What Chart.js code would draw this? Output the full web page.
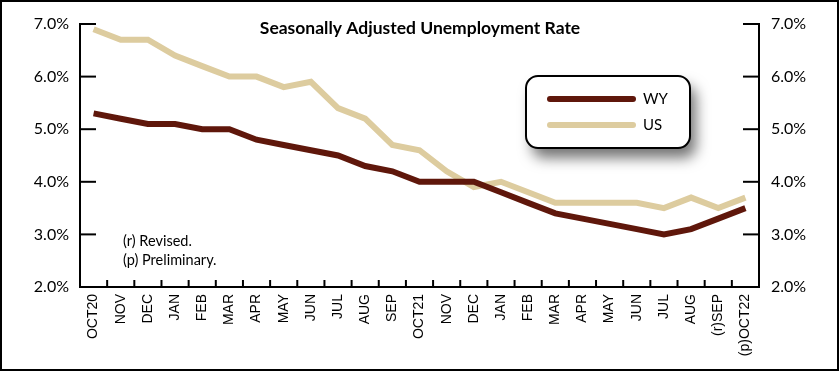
<!DOCTYPE html>
<html>
<head>
<meta charset="utf-8">
<script src="https://cdn.jsdelivr.net/npm/chart.js@4/dist/chart.umd.min.js"></script>
<style>
  html, body { margin: 0; padding: 0; background: #fff; }
  #wrap { width: 840px; height: 372px; position: relative; }
</style>
</head>
<body>
<div id="wrap"><canvas id="chart" width="840" height="372"></canvas></div>
<script>
const months = ['OCT20', 'NOV', 'DEC', 'JAN', 'FEB', 'MAR', 'APR', 'MAY', 'JUN', 'JUL', 'AUG', 'SEP',
    'OCT21', 'NOV', 'DEC', 'JAN', 'FEB', 'MAR', 'APR', 'MAY', 'JUN', 'JUL', 'AUG', '(r)SEP', '(p)OCT22'];
const wyRate = [5.3, 5.2, 5.1, 5.1, 5.0, 5.0, 4.8, 4.7, 4.6, 4.5, 4.3, 4.2,
    4.0, 4.0, 4.0, 3.8, 3.6, 3.4, 3.3, 3.2, 3.1, 3.0, 3.1, 3.3, 3.5];
const usRate = [6.9, 6.7, 6.7, 6.4, 6.2, 6.0, 6.0, 5.8, 5.9, 5.4, 5.2, 4.7,
    4.6, 4.2, 3.9, 4.0, 3.8, 3.6, 3.6, 3.6, 3.6, 3.5, 3.7, 3.5, 3.7];
const seriesNames = ['WY', 'US'];
const footnotes = ['(r) Revised.', '(p) Preliminary.'];
const title = 'Seasonally Adjusted Unemployment Rate';

const colors = {
    wy: '#5f170b',
    us: '#ddcc9f',
    axis: '#000'
};
const fontFamily = 'Lato, "Open Sans", sans-serif';
const xFont = '"Liberation Sans", Arial, sans-serif';

// ticks pointing inward, title, box legend with shadow, notes and frame
const decorations = {
    id: 'decorations',
    afterDraw(chart) {
        const ctx = chart.ctx;
        const area = chart.chartArea;
        const x = chart.scales.x;
        const y = chart.scales.y;
        const y2 = chart.scales.y2;

        ctx.save();
        ctx.strokeStyle = colors.axis;
        ctx.lineWidth = 2;
        y.ticks.forEach((t, i) => {
            const py = y.getPixelForTick(i);
            ctx.beginPath();
            ctx.moveTo(area.left, py);
            ctx.lineTo(area.left + 16, py);
            ctx.stroke();
        });
        y2.ticks.forEach((t, i) => {
            const py = y2.getPixelForTick(i);
            ctx.beginPath();
            ctx.moveTo(area.right, py);
            ctx.lineTo(area.right - 16, py);
            ctx.stroke();
        });
        const step = x.getPixelForValue(1) - x.getPixelForValue(0);
        for (let i = 1; i < months.length; i++) {
            const px = x.getPixelForValue(i) - step / 2;
            ctx.beginPath();
            ctx.moveTo(px, area.bottom);
            ctx.lineTo(px, area.bottom - 7);
            ctx.stroke();
        }

        // title
        ctx.fillStyle = '#000';
        ctx.font = 'bold 17.5px ' + fontFamily;
        ctx.textAlign = 'center';
        ctx.textBaseline = 'middle';
        ctx.fillText(title, 420, 28);

        // legend box
        const lx = 526, ly = 76, lw = 164, lh = 72;
        ctx.save();
        ctx.shadowColor = 'rgba(0,0,0,0.55)';
        ctx.shadowBlur = 14;
        ctx.shadowOffsetX = 6;
        ctx.shadowOffsetY = 10;
        ctx.fillStyle = '#fff';
        ctx.beginPath();
        ctx.roundRect(lx, ly, lw, lh, 12);
        ctx.fill();
        ctx.restore();
        ctx.lineWidth = 2;
        ctx.strokeStyle = '#000';
        ctx.beginPath();
        ctx.roundRect(lx, ly, lw, lh, 12);
        ctx.stroke();

        const legendColors = [colors.wy, colors.us];
        ctx.lineCap = 'round';
        ctx.lineWidth = 6;
        ctx.font = '15px ' + fontFamily;
        ctx.textAlign = 'left';
        seriesNames.forEach((name, i) => {
            const yy = 99 + i * 26;
            ctx.strokeStyle = legendColors[i];
            ctx.beginPath();
            ctx.moveTo(550, yy);
            ctx.lineTo(633, yy);
            ctx.stroke();
            ctx.fillStyle = '#000';
            ctx.fillText(name, 643, yy);
        });

        // footnotes
        ctx.font = '14.5px ' + fontFamily;
        footnotes.forEach((t, i) => {
            ctx.fillText(t, 123, 241 + i * 19);
        });

        // frame
        ctx.lineCap = 'butt';
        ctx.lineWidth = 2;
        ctx.strokeStyle = '#000';
        ctx.strokeRect(1, 1, 837, 369);
        ctx.restore();
    }
};

const pct = v => v.toFixed(1) + '%';

new Chart(document.getElementById('chart'), {
    type: 'line',
    data: {
        labels: months,
        datasets: [{
            label: seriesNames[0],
            data: wyRate,
            borderColor: colors.wy,
            borderWidth: 6,
            pointRadius: 0,
            tension: 0,
            yAxisID: 'y'
        }, {
            label: seriesNames[1],
            data: usRate,
            borderColor: colors.us,
            borderWidth: 6,
            pointRadius: 0,
            tension: 0,
            yAxisID: 'y'
        }]
    },
    options: {
        responsive: false,
        animation: false,
        layout: { padding: { top: 24, left: 0, right: 0, bottom: 0 } },
        plugins: {
            legend: { display: false },
            tooltip: { enabled: false }
        },
        scales: {
            x: {
                offset: true,
                grid: { display: true, drawOnChartArea: false, drawTicks: false },
                border: { display: true, color: colors.axis, width: 2 },
                ticks: {
                    color: '#000',
                    minRotation: 90,
                    maxRotation: 90,
                    autoSkip: false,
                    padding: 7,
                    font: { family: xFont, size: 14 }
                },
                afterFit(scale) { scale.height = 85; }
            },
            y: {
                position: 'left',
                min: 2, max: 7,
                grid: { display: true, drawOnChartArea: false, drawTicks: false },
                border: { display: true, color: colors.axis, width: 2 },
                ticks: {
                    stepSize: 1,
                    color: '#000',
                    padding: 11,
                    callback: v => pct(v),
                    font: { family: fontFamily, size: 16 }
                },
                afterFit(scale) { scale.width = 80; }
            },
            y2: {
                position: 'right',
                min: 2, max: 7,
                grid: { display: true, drawOnChartArea: false, drawTicks: false },
                border: { display: true, color: colors.axis, width: 2 },
                ticks: {
                    stepSize: 1,
                    color: '#000',
                    padding: 12,
                    callback: v => pct(v),
                    font: { family: fontFamily, size: 16 }
                },
                afterFit(scale) { scale.width = 81; }
            }
        }
    },
    plugins: [decorations]
});
</script>
</body>
</html>
